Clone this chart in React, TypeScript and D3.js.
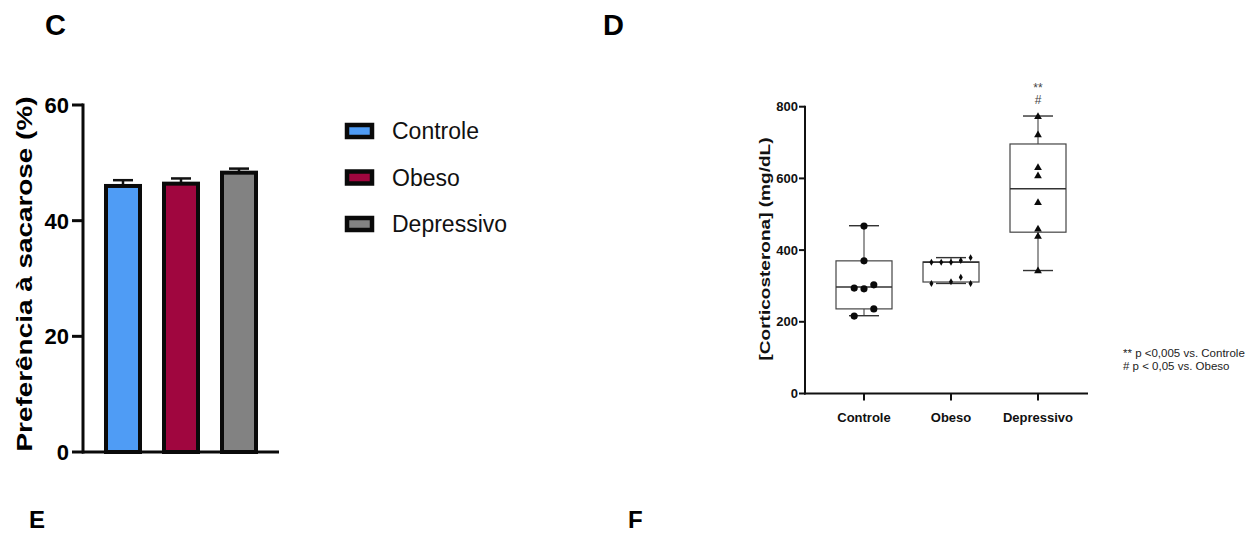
import React, { useEffect, useRef } from 'react';
import * as d3 from 'd3';

// Panel C - sucrose preference (bars, mean + SEM)
const groups = ['Controle', 'Obeso', 'Depressivo'];
const barMeans = [46.0, 46.4, 48.3];
const barSem = [1.0, 0.9, 0.7];
const barColors = ['#4f9cf5', '#a0063f', '#828282'];
const barTicks = [0, 20, 40, 60];

// Panel D - corticosterone (box plots + individual points)
const boxLow = [217, 307, 343];
const boxQ1 = [236, 311, 450];
const boxMedian = [297, 366, 571];
const boxQ3 = [370, 367, 696];
const boxHigh = [468, 379, 774];

const controlePts = [467, 370, 303, 294, 292, 236, 216];
const controleSlots = [0, 0, 1, -1, 0, 1, -1];
const obesoPts = [366, 366, 366, 371, 379, 307, 312, 324, 307];
const obesoSlots = [-2, -1, 0, 1, 2, -2, 0, 1, 2];
const depressivoPts = [772, 721, 630, 607, 532, 458, 438, 342];
const depressivoSlots = [0, 0, 0, 0, 0, 0, 0, 0];
const cortTicks = [0, 200, 400, 600, 800];

const FONT = 'Liberation Sans, Arial, sans-serif';

const App = () => {
  const svgRef = useRef<SVGSVGElement>(null);

  useEffect(() => {
    const svg = d3.select(svgRef.current);
    svg.selectAll('*').remove();

    // panel letters
    const letters = [
      { t: 'C', x: 45, y: 35, s: 29 },
      { t: 'D', x: 603, y: 35, s: 29 },
      { t: 'E', x: 29, y: 528, s: 24 },
      { t: 'F', x: 628, y: 528, s: 24 },
    ];
    svg.append('g')
      .selectAll('text')
      .data(letters)
      .join('text')
      .attr('x', d => d.x)
      .attr('y', d => d.y)
      .attr('font-family', FONT)
      .attr('font-weight', 'bold')
      .attr('font-size', d => d.s)
      .text(d => d.t);

    // ---------- Panel C ----------
    const yC = d3.scaleLinear().domain([0, 60]).range([452, 105]);
    const xC = d3.scalePoint<string>().domain(groups).range([123, 239]);
    const gC = svg.append('g');

    // error bars (drawn first, bar covers lower half)
    gC.append('g')
      .selectAll('g')
      .data(groups)
      .join('g')
      .each(function (d, i) {
        const g = d3.select(this);
        const cx = xC(d)!;
        g.append('line')
          .attr('x1', cx).attr('x2', cx)
          .attr('y1', yC(barMeans[i])).attr('y2', yC(barMeans[i] + barSem[i]))
          .attr('stroke', '#111').attr('stroke-width', 2.5);
        g.append('line')
          .attr('x1', cx - 10).attr('x2', cx + 10)
          .attr('y1', yC(barMeans[i] + barSem[i])).attr('y2', yC(barMeans[i] + barSem[i]))
          .attr('stroke', '#111').attr('stroke-width', 2.5);
      });

    gC.append('g')
      .selectAll('rect')
      .data(groups)
      .join('rect')
      .attr('x', d => xC(d)! - 17)
      .attr('width', 34)
      .attr('y', (d, i) => yC(barMeans[i]))
      .attr('height', (d, i) => yC(0) - yC(barMeans[i]))
      .attr('fill', (d, i) => barColors[i])
      .attr('stroke', '#0a0a0a')
      .attr('stroke-width', 4);

    // axes
    gC.append('line')
      .attr('x1', 83).attr('x2', 83)
      .attr('y1', yC(60) - 1.5).attr('y2', yC(0) + 1.5)
      .attr('stroke', '#0a0a0a').attr('stroke-width', 3);
    gC.append('line')
      .attr('x1', 82).attr('x2', 279)
      .attr('y1', yC(0)).attr('y2', yC(0))
      .attr('stroke', '#0a0a0a').attr('stroke-width', 3);
    gC.append('g')
      .selectAll('line')
      .data(barTicks)
      .join('line')
      .attr('x1', 72).attr('x2', 83)
      .attr('y1', d => yC(d)).attr('y2', d => yC(d))
      .attr('stroke', '#0a0a0a').attr('stroke-width', 3);
    gC.append('g')
      .selectAll('text')
      .data(barTicks)
      .join('text')
      .attr('x', 69)
      .attr('y', d => yC(d))
      .attr('dy', '0.36em')
      .attr('text-anchor', 'end')
      .attr('font-family', FONT)
      .attr('font-weight', 'bold')
      .attr('font-size', 22)
      .text(d => d);

    gC.append('text')
      .attr('transform', 'translate(32,274) rotate(-90)')
      .attr('text-anchor', 'middle')
      .attr('font-family', FONT)
      .attr('font-weight', 'bold')
      .attr('font-size', 22)
      .attr('textLength', 355)
      .attr('lengthAdjust', 'spacingAndGlyphs')
      .text('Preferência à sacarose (%)');

    // legend
    const lg = gC.append('g')
      .selectAll('g')
      .data(groups)
      .join('g')
      .attr('transform', (d, i) => `translate(0,${131 + i * 46.5})`);
    lg.append('rect')
      .attr('x', 347).attr('y', -6)
      .attr('width', 25).attr('height', 12)
      .attr('fill', (d, i) => barColors[i])
      .attr('stroke', '#0a0a0a').attr('stroke-width', 4.5);
    lg.append('text')
      .attr('x', 392).attr('y', 8)
      .attr('font-family', FONT)
      .attr('font-size', 23)
      .attr('fill', '#111')
      .text(d => d);

    // ---------- Panel D ----------
    const yD = d3.scaleLinear().domain([0, 800]).range([393.5, 106.7]);
    const xD = d3.scalePoint<string>().domain(groups).range([864, 1038]);
    const slot = d3.scaleLinear().domain([0, 1]).range([0, 9.8]);
    const gD = svg.append('g');

    const boxW = 56;
    const capW = 30;
    const boxes = gD.append('g')
      .selectAll('g')
      .data(groups)
      .join('g');
    boxes.each(function (d, i) {
      const g = d3.select(this);
      const cx = xD(d)!;
      // whiskers
      g.append('line')
        .attr('x1', cx).attr('x2', cx)
        .attr('y1', yD(boxHigh[i])).attr('y2', yD(boxQ3[i]))
        .attr('stroke', '#555').attr('stroke-width', 1.2);
      g.append('line')
        .attr('x1', cx).attr('x2', cx)
        .attr('y1', yD(boxQ1[i])).attr('y2', yD(boxLow[i]))
        .attr('stroke', '#555').attr('stroke-width', 1.2);
      [boxHigh[i], boxLow[i]].forEach(v => {
        g.append('line')
          .attr('x1', cx - capW / 2).attr('x2', cx + capW / 2)
          .attr('y1', yD(v)).attr('y2', yD(v))
          .attr('stroke', '#333').attr('stroke-width', 1.4);
      });
      g.append('rect')
        .attr('x', cx - boxW / 2).attr('width', boxW)
        .attr('y', yD(boxQ3[i]))
        .attr('height', yD(boxQ1[i]) - yD(boxQ3[i]))
        .attr('fill', 'none')
        .attr('stroke', '#444').attr('stroke-width', 1.2);
      g.append('line')
        .attr('x1', cx - boxW / 2).attr('x2', cx + boxW / 2)
        .attr('y1', yD(boxMedian[i])).attr('y2', yD(boxMedian[i]))
        .attr('stroke', '#333').attr('stroke-width', 1.4);
    });

    const pointSets = [
      { vals: controlePts, slots: controleSlots, sym: d3.symbolCircle, size: 40 },
      { vals: obesoPts, slots: obesoSlots, sym: d3.symbolDiamond, size: 14 },
      { vals: depressivoPts, slots: depressivoSlots, sym: d3.symbolTriangle, size: 26 },
    ];
    pointSets.forEach((ps, gi) => {
      gD.append('g')
        .selectAll('path')
        .data(ps.vals)
        .join('path')
        .attr('transform', (v, j) => `translate(${xD(groups[gi])! + slot(ps.slots[j])},${yD(v)})`)
        .attr('d', d3.symbol().type(ps.sym).size(ps.size)())
        .attr('fill', '#0a0a0a');
    });

    // axes
    gD.append('line')
      .attr('x1', 805).attr('x2', 805)
      .attr('y1', yD(800) - 1).attr('y2', yD(0) + 1)
      .attr('stroke', '#111').attr('stroke-width', 2);
    gD.append('line')
      .attr('x1', 804).attr('x2', 1088)
      .attr('y1', yD(0)).attr('y2', yD(0))
      .attr('stroke', '#111').attr('stroke-width', 2);
    gD.append('g')
      .selectAll('line')
      .data(cortTicks)
      .join('line')
      .attr('x1', 799).attr('x2', 805)
      .attr('y1', d => yD(d)).attr('y2', d => yD(d))
      .attr('stroke', '#111').attr('stroke-width', 2);
    gD.append('g')
      .selectAll('text')
      .data(cortTicks)
      .join('text')
      .attr('x', 798)
      .attr('y', d => yD(d))
      .attr('dy', '0.36em')
      .attr('text-anchor', 'end')
      .attr('font-family', FONT)
      .attr('font-weight', 'bold')
      .attr('font-size', 13)
      .attr('fill', '#111')
      .text(d => d);
    gD.append('g')
      .selectAll('line')
      .data(groups)
      .join('line')
      .attr('x1', d => xD(d)!).attr('x2', d => xD(d)!)
      .attr('y1', yD(0)).attr('y2', yD(0) + 7)
      .attr('stroke', '#111').attr('stroke-width', 2);
    gD.append('g')
      .selectAll('text')
      .data(groups)
      .join('text')
      .attr('x', d => xD(d)!)
      .attr('y', 422)
      .attr('text-anchor', 'middle')
      .attr('font-family', FONT)
      .attr('font-weight', 'bold')
      .attr('font-size', 13)
      .attr('fill', '#111')
      .text(d => d);

    gD.append('text')
      .attr('transform', 'translate(770,249) rotate(-90)')
      .attr('text-anchor', 'middle')
      .attr('font-family', FONT)
      .attr('font-weight', 'bold')
      .attr('font-size', 14)
      .attr('textLength', 223)
      .attr('lengthAdjust', 'spacingAndGlyphs')
      .attr('fill', '#111')
      .text('[Corticosterona] (mg/dL)');

    // significance marks
    gD.append('text')
      .attr('x', xD('Depressivo')!).attr('y', 92)
      .attr('text-anchor', 'middle')
      .attr('font-family', FONT).attr('font-size', 12).attr('fill', '#444')
      .text('**');
    gD.append('text')
      .attr('x', xD('Depressivo')!).attr('y', 104)
      .attr('text-anchor', 'middle')
      .attr('font-family', FONT).attr('font-size', 12).attr('fill', '#444')
      .text('#');

    const notes = ['** p <0,005 vs. Controle', '#  p < 0,05 vs. Obeso'];
    gD.append('g')
      .selectAll('text')
      .data(notes)
      .join('text')
      .attr('x', 1123)
      .attr('y', (d, i) => 357 + i * 13)
      .attr('font-family', FONT)
      .attr('font-size', 11.5)
      .attr('fill', '#222')
      .text(d => d);
  }, []);

  return (
    <svg
      ref={svgRef}
      width={1255}
      height={533}
      style={{ position: 'absolute', left: 0, top: 0, background: '#fff' }}
    />
  );
};

export default App;
